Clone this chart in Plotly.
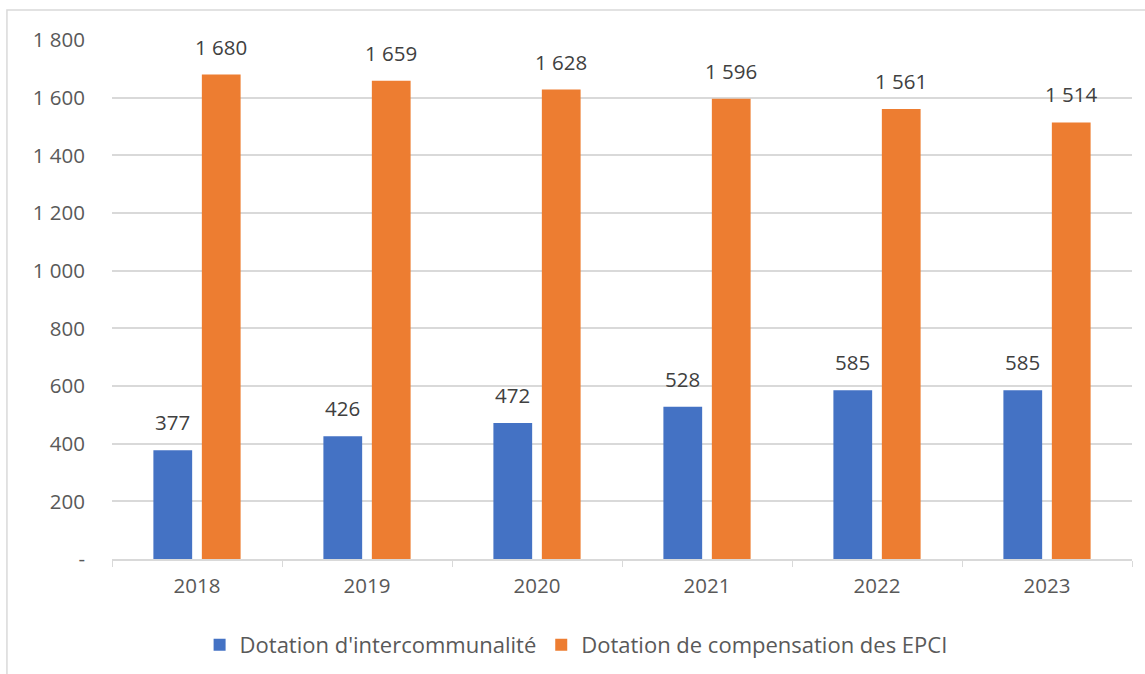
import plotly.graph_objects as go

years = ["2018", "2019", "2020", "2021", "2022", "2023"]
dotation_interco = [377, 426, 472, 528, 585, 585]
dotation_compens = [1680, 1659, 1628, 1596, 1561, 1514]
y_ticks = [0, 200, 400, 600, 800, 1000, 1200, 1400, 1600, 1800]

def fmt(v):
    return "-" if v == 0 else f"{v:,}".replace(",", " ")

BLUE = "#4472C4"
ORANGE = "#ED7D31"
FONT = "Open Sans"
FS = 20.5
bargap = 0.43
bargroupgap = 0.2

fig = go.Figure()
fig.add_trace(go.Bar(x=years, y=dotation_interco, name="Dotation d'intercommunalité",
                     marker=dict(color=BLUE, line=dict(width=0))))
fig.add_trace(go.Bar(x=years, y=dotation_compens, name="Dotation de compensation des EPCI",
                     marker=dict(color=ORANGE, line=dict(width=0))))

slot = (1 - bargap) / 2
for series, sign in ((dotation_interco, -1), (dotation_compens, 1)):
    for i, v in enumerate(series):
        fig.add_annotation(x=i + sign * slot / 2, y=v, xref="x", yref="y",
                           text=fmt(v), showarrow=False, yanchor="bottom", yshift=12,
                           font=dict(family=FONT, size=FS, color="#404040"))

fig.add_shape(type="rect", xref="paper", yref="paper", x0=-0.103, x1=1.05, y0=-0.6, y1=1.058,
              line=dict(color="#d9d9d9", width=1.5), fillcolor="rgba(0,0,0,0)", layer="below")

fig.update_layout(
    width=1145, height=674,
    margin=dict(l=112, r=13, t=40, b=115, autoexpand=False),
    paper_bgcolor="white", plot_bgcolor="white",
    barmode="group", bargap=bargap, bargroupgap=bargroupgap,
    font=dict(family=FONT, color="#595959"),
    showlegend=True,
    legend=dict(orientation="h", x=0.455, xanchor="center", y=-0.125, yanchor="top",
                font=dict(family=FONT, size=22, color="#595959"),
                traceorder="normal"),
)
fig.update_xaxes(type="category", showline=True, linecolor="#d9d9d9", linewidth=1.5,
                 ticks="outside", tickson="boundaries", ticklen=6, tickcolor="#d9d9d9",
                 ticklabelstandoff=8, automargin=False,
                 tickfont=dict(family=FONT, size=FS, color="#595959"), showgrid=False)
fig.update_yaxes(range=[0, 1800], tickvals=y_ticks, ticktext=[fmt(v) for v in y_ticks],
                 showgrid=True, gridcolor="#d9d9d9", gridwidth=1.5, zeroline=False,
                 showline=False, ticks="", ticklabelstandoff=26, automargin=False,
                 tickfont=dict(family=FONT, size=FS, color="#595959"))

fig.write_html("out.html")
